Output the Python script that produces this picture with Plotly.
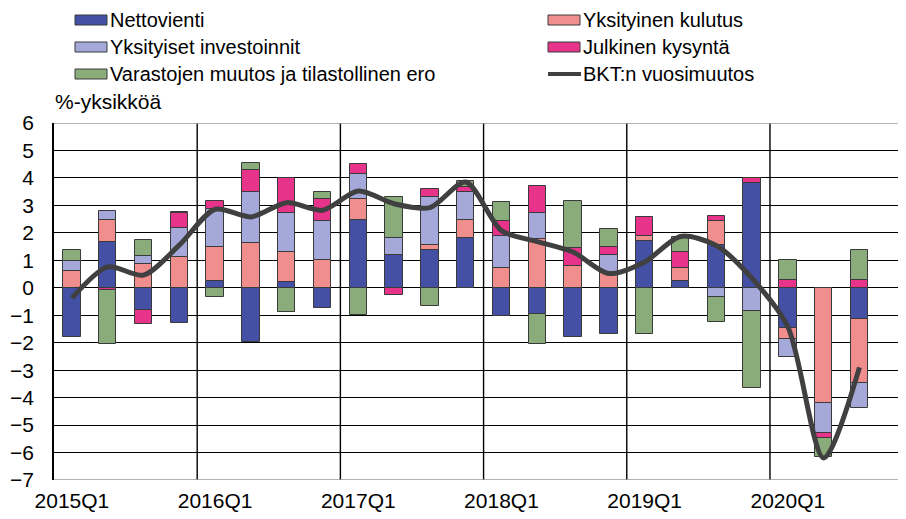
import plotly.graph_objects as go

quarters = ["2015Q1", "2015Q2", "2015Q3", "2015Q4",
            "2016Q1", "2016Q2", "2016Q3", "2016Q4",
            "2017Q1", "2017Q2", "2017Q3", "2017Q4",
            "2018Q1", "2018Q2", "2018Q3", "2018Q4",
            "2019Q1", "2019Q2", "2019Q3", "2019Q4",
            "2020Q1", "2020Q2", "2020Q3"]

nettovienti = [-1.80, 1.68, -0.80, -1.28, 0.24, -1.97, 0.22, -0.72, 2.47, 1.21, 1.38, 1.80,
               -1.04, -0.95, -1.80, -1.68, 1.72, 0.24, 1.56, 3.82, -1.48, 0.0, -1.15]
kulutus = [0.60, 0.78, 0.85, 1.12, 1.24, 1.63, 1.08, 1.02, 0.75, 0.0, 0.18, 0.67,
           0.72, 1.78, 0.80, 0.52, 0.18, 0.49, 0.88, 0.0, -0.39, -4.20, -2.30]
investoinnit = [0.37, 0.34, 0.29, 1.04, 1.40, 1.85, 1.44, 1.42, 0.93, 0.60, 1.74, 1.01,
                1.18, 0.96, 0.0, 0.68, 0.0, 0.0, -0.32, -0.86, -0.64, -1.09, -0.91]
julkinen = [0.0, -0.08, -0.52, 0.58, 0.28, 0.82, 1.26, 0.78, 0.35, -0.28, 0.30, 0.18,
            0.54, 0.96, 0.65, 0.30, 0.66, 0.57, 0.16, 0.18, 0.28, -0.19, 0.28]
varastot = [0.41, -1.98, 0.60, 0.02, -0.32, 0.26, -0.89, 0.26, -1.00, 1.49, -0.66, 0.22,
            0.69, -1.11, 1.71, 0.64, -1.68, 0.56, -0.93, -2.80, 0.72, -0.69, 1.08]
bkt = [-0.38, 0.76, 0.46, 1.55, 2.86, 2.58, 3.10, 2.82, 3.52, 3.06, 2.92, 3.85,
       2.08, 1.68, 1.30, 0.52, 0.94, 1.87, 1.54, 0.34, -1.42, -6.2, -2.9]

year_ticks = [0, 4, 8, 12, 16, 20]
year_labels = ["2015Q1", "2016Q1", "2017Q1", "2018Q1", "2019Q1", "2020Q1"]
y_ticks = list(range(-7, 7))

series = [
    ("Nettovienti", nettovienti, "#4350a3"),
    ("Yksityinen kulutus", kulutus, "#f08e8e"),
    ("Yksityiset investoinnit", investoinnit, "#a4a9d9"),
    ("Julkinen kysyntä", julkinen, "#e8338a"),
    ("Varastojen muutos ja tilastollinen ero", varastot, "#8aab7a"),
]
line_name = "BKT:n vuosimuutos"
line_color = "#404040"

# page body adds an 8px margin, so the figure is 8px smaller and every
# position below is measured from the figure's own top-left corner
W, H = 898, 511
L, R, T, B = 46, 0, 115, 39
FONT = "Liberation Sans, Arial, sans-serif"

x = list(range(len(quarters)))

fig = go.Figure()
for name, vals, col in series:
    fig.add_trace(go.Bar(
        x=x, y=vals, name=name, width=0.49,
        marker=dict(color=col, line=dict(color="#3a3a3a", width=1)),
        showlegend=False, hovertext=quarters,
    ))
fig.add_trace(go.Scatter(
    x=x, y=bkt, name=line_name, mode="lines",
    line=dict(color=line_color, width=5, shape="spline", smoothing=0.8),
    showlegend=False, hovertext=quarters,
))


def px_x(p):
    return (p - L) / (W - L - R)


def px_y(p):
    return (H - B - p) / (H - T - B)


shapes = []
annotations = []
# year separators
for v in [3.5, 7.5, 11.5, 15.5, 19.5]:
    shapes.append(dict(type="line", xref="x", yref="paper", x0=v, x1=v, y0=0, y1=1,
                       line=dict(color="black", width=1.4), layer="below"))
# top / bottom frame lines (gray)
for yy in [6, -7]:
    shapes.append(dict(type="line", xref="paper", yref="y", x0=0, x1=1, y0=yy, y1=yy,
                       line=dict(color="#9a9a9a", width=1.6), layer="below"))

# custom legend (two columns, row-major)
legend_items = [(s[0], s[2], "bar") for s in series] + [(line_name, line_color, "line")]
col_x = [67, 540]
row_y = [12, 39, 66]
for i, (name, col, kind) in enumerate(legend_items):
    cx = col_x[i % 2]
    ry = row_y[i // 2]
    if kind == "bar":
        shapes.append(dict(type="rect", xref="paper", yref="paper",
                           x0=px_x(cx), x1=px_x(cx + 32), y0=px_y(ry - 5), y1=px_y(ry + 5),
                           fillcolor=col, line=dict(color="#3a3a3a", width=1)))
    else:
        shapes.append(dict(type="line", xref="paper", yref="paper",
                           x0=px_x(cx), x1=px_x(cx + 33), y0=px_y(ry), y1=px_y(ry),
                           line=dict(color=col, width=4)))
    annotations.append(dict(xref="paper", yref="paper", x=px_x(cx + 33), y=px_y(ry),
                            text=name, showarrow=False, xanchor="left", yanchor="middle",
                            font=dict(family=FONT, size=20, color="black")))

annotations.append(dict(xref="paper", yref="paper", x=px_x(45), y=px_y(93),
                        text="%-yksikköä", showarrow=False, xanchor="left", yanchor="middle",
                        font=dict(family=FONT, size=21, color="black")))

fig.update_layout(
    width=W, height=H,
    margin=dict(l=L, r=R, t=T, b=B),
    barmode="relative",
    bargap=0,
    plot_bgcolor="white", paper_bgcolor="white",
    font=dict(family=FONT, size=21, color="black"),
    shapes=shapes, annotations=annotations,
    showlegend=False,
    xaxis=dict(range=[-0.5, 23.3], tickmode="array", tickvals=year_ticks, ticktext=year_labels,
               showgrid=False, zeroline=False, showline=False, ticks="",
               ticklabelstandoff=6, tickfont=dict(size=21)),
    yaxis=dict(range=[-7, 6], tickmode="array", tickvals=y_ticks,
               showgrid=True, gridcolor="black", gridwidth=1.3, zeroline=False,
               showline=True, linecolor="black", linewidth=1.5, ticks="",
               ticklabelstandoff=14, tickfont=dict(size=21)),
)

fig.write_html("out.html")
